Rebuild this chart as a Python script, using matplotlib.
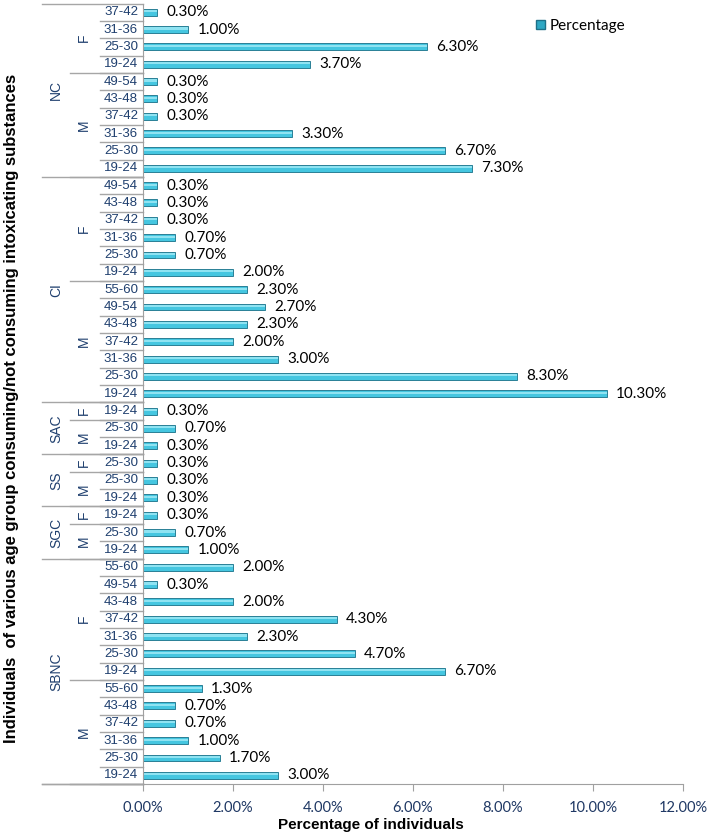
import matplotlib
matplotlib.use("Agg")
import matplotlib.pyplot as plt
import matplotlib.patches as mpatches
from matplotlib.transforms import blended_transform_factory
import numpy as np

# Data, listed bottom row to top row
groups = (["SBNC"] * 13 + ["SGC"] * 3 + ["SS"] * 3 + ["SAC"] * 3
          + ["CI"] * 13 + ["NC"] * 10)
genders = (["M"] * 6 + ["F"] * 7          # SBNC
           + ["M"] * 2 + ["F"]            # SGC
           + ["M"] * 2 + ["F"]            # SS
           + ["M"] * 2 + ["F"]            # SAC
           + ["M"] * 7 + ["F"] * 6        # CI
           + ["M"] * 6 + ["F"] * 4)       # NC
ages = ["19-24", "25-30", "31-36", "37-42", "43-48", "55-60",
        "19-24", "25-30", "31-36", "37-42", "43-48", "49-54", "55-60",
        "19-24", "25-30", "19-24",
        "19-24", "25-30", "25-30",
        "19-24", "25-30", "19-24",
        "19-24", "25-30", "31-36", "37-42", "43-48", "49-54", "55-60",
        "19-24", "25-30", "31-36", "37-42", "43-48", "49-54",
        "19-24", "25-30", "31-36", "37-42", "43-48", "49-54",
        "19-24", "25-30", "31-36", "37-42"]
percentages = [3.0, 1.7, 1.0, 0.7, 0.7, 1.3,
               6.7, 4.7, 2.3, 4.3, 2.0, 0.3, 2.0,
               1.0, 0.7, 0.3,
               0.3, 0.3, 0.3,
               0.3, 0.7, 0.3,
               10.3, 8.3, 3.0, 2.0, 2.3, 2.7, 2.3,
               2.0, 0.7, 0.7, 0.3, 0.3, 0.3,
               7.3, 6.7, 3.3, 0.3, 0.3, 0.3,
               3.7, 6.3, 1.0, 0.3]
x_ticks = [0, 2, 4, 6, 8, 10, 12]

W, H = 711, 835
fig = plt.figure(figsize=(W / 100, H / 100), dpi=100)
ax_left, ax_right, ax_top, ax_bot = 143, 683, 3.5, 784
ax = fig.add_axes([ax_left / W, 1 - ax_bot / H,
                   (ax_right - ax_left) / W, (ax_bot - ax_top) / H])

n = len(percentages)
y = np.arange(n)
ax.barh(y, percentages, height=0.4, color="#45C6E0",
        edgecolor="#2A7F96", linewidth=0.7)
# light highlight strip to mimic the shaded 3D bars
ax.barh(y + 0.06, percentages, height=0.12, color="#8FE3F2", linewidth=0)

calibri = ["Lato", "DejaVu Sans"]
for yi, v in zip(y, percentages):
    ax.annotate(f"{v:.2f}%", xy=(v, yi), xytext=(7, 0),
                textcoords="offset points", ha="left", va="center",
                fontsize=11, family=calibri, color="black")

ax.set_ylim(-0.5, n - 0.5)
ax.set_xlim(0, 12)
ax.set_yticks([])
ax.set_xticks(x_ticks)
ax.set_xticklabels([f"{t:.2f}%" for t in x_ticks], fontsize=10.5,
                   color="#1F3864", family=calibri)
ax.tick_params(axis="x", direction="out", length=5, color="#A0A0A0", pad=7)
for s in ["top", "right"]:
    ax.spines[s].set_visible(False)
ax.spines["left"].set_color("#A0A0A0")
ax.spines["bottom"].set_color("#A0A0A0")

# Multi-level category axis
aw = ax_right - ax_left
def ax_x(px):
    return (px - ax_left) / aw

trans = blended_transform_factory(ax.transAxes, ax.transData)
line_kw = dict(color="#A6A6A6", lw=1.0, transform=trans, clip_on=False)
label_col = "#1F3F6E"
narrow = ["Liberation Sans Narrow", "Liberation Sans", "DejaVu Sans"]

for i in range(n):
    ax.text(ax_x(121), i, ages[i], ha="center", va="center", fontsize=9.5,
            color=label_col, family=narrow, transform=trans)
    ax.plot([ax_x(100), 0], [i - 0.5, i - 0.5], **line_kw)
ax.plot([ax_x(42), 0], [n - 0.5, n - 0.5], **line_kw)
ax.plot([ax_x(42), 0], [-0.5, -0.5], **line_kw)

# gender and group spans
def spans(keys):
    out = []
    start = 0
    for i in range(1, len(keys) + 1):
        if i == len(keys) or keys[i] != keys[start]:
            out.append((start, i - 1, keys[start]))
            start = i
    return out

for s, e, g in spans(list(zip(groups, genders))):
    ax.text(ax_x(84), (s + e) / 2, g[1], ha="center", va="center",
            rotation=90, fontsize=10, color=label_col, family=narrow,
            transform=trans)
    ax.plot([ax_x(70), 0], [s - 0.5, s - 0.5], **line_kw)
for s, e, g in spans(groups):
    ax.text(ax_x(56), (s + e) / 2, g, ha="center", va="center",
            rotation=90, fontsize=10, color=label_col, family=narrow,
            transform=trans)
    ax.plot([ax_x(42), 0], [s - 0.5, s - 0.5], **line_kw)

arial = ["Liberation Sans", "DejaVu Sans"]
fig.text(12 / W, 1 - 408 / H,
         "Individuals  of various age group consuming/not consuming intoxicating substances",
         rotation=90, ha="center", va="center", fontsize=12,
         fontweight="bold", family=arial)
fig.text(371 / W, 1 - 825 / H, "Percentage of individuals",
         ha="center", va="center", fontsize=11, fontweight="bold",
         family=arial)

handle = mpatches.Patch(facecolor="#2FA8C4", edgecolor="#1E7088", label="Percentage")
fig.legend(handles=[handle], loc="center left",
           bbox_to_anchor=(522 / W, 1 - 26 / H), frameon=False,
           handlelength=0.6, handleheight=0.6, handletextpad=0.3,
           prop={"family": calibri, "size": 11})

fig.savefig("out.png", dpi=100)
